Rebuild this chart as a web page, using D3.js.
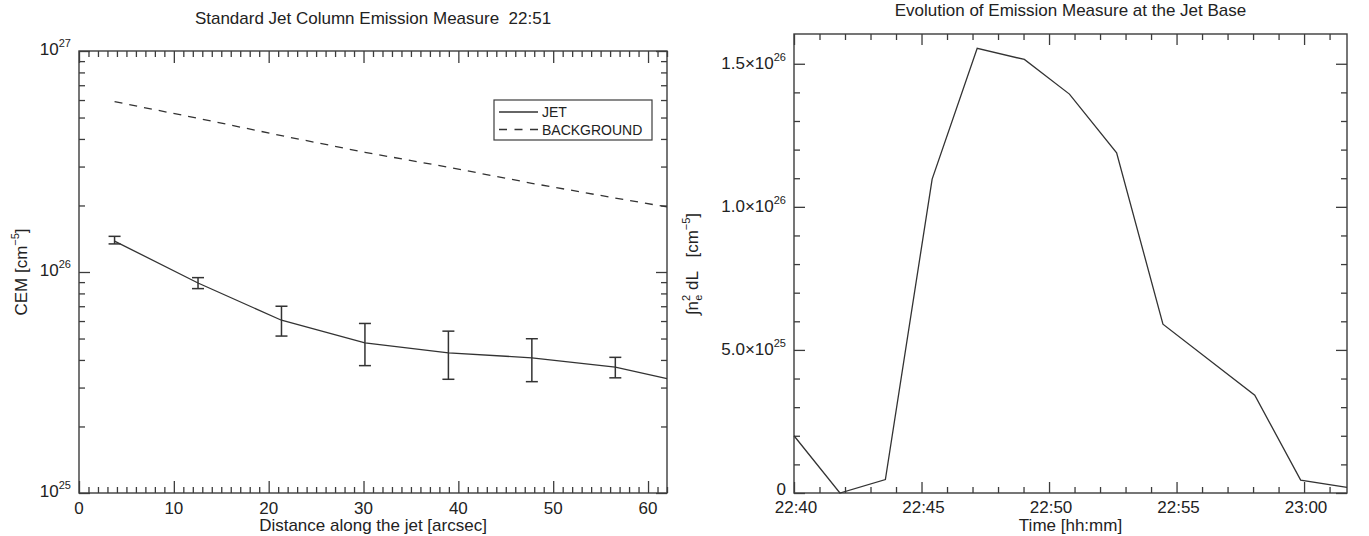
<!DOCTYPE html>
<html>
<head>
<meta charset="utf-8">
<script src="https://cdn.jsdelivr.net/npm/d3@7"></script>
<style>
  body { margin: 0; background: #fff; }
  text { font-family: "Liberation Sans", Arial, sans-serif; fill: #222; }
</style>
</head>
<body>
<script>
// ---- left panel: CEM along the jet ----
var jetDist = [3.75, 12.55, 21.35, 30.15, 38.95, 47.75, 56.55, 62];
var jetCEM = [1.38e26, 8.92e25, 6.05e25, 4.78e25, 4.31e25, 4.09e25, 3.71e25, 3.29e25];
var jetErrLow = [1.34e26, 8.41e25, 5.13e25, 3.77e25, 3.27e25, 3.19e25, 3.32e25];
var jetErrHigh = [1.45e26, 9.43e25, 7.0e25, 5.85e25, 5.40e25, 4.99e25, 4.11e25];
var bgCEM = [5.9e26, 4.96e26, 4.14e26, 3.48e26, 2.98e26, 2.52e26, 2.16e26, 1.97e26];
var distTicks = [0, 10, 20, 30, 40, 50, 60];
var cemTicks = [1e25, 1e26, 1e27];
var legendKeys = ["JET", "BACKGROUND"];

// ---- right panel: EM at the jet base vs time ----
var baseTimes = ["22:40:00", "22:41:48", "22:43:35", "22:45:25", "22:47:11", "22:49:02",
                 "22:50:48", "22:52:39", "22:54:28", "22:58:04", "22:59:52", "23:01:41"];
var baseEM = [2.0e25, 0, 0.47e25, 1.097e26, 1.554e26, 1.515e26,
              1.394e26, 1.189e26, 5.9e25, 3.42e25, 0.45e25, 0.2e25];
var emTicks = [0, 5e25, 1e26, 1.5e26];
var timeTicks = ["22:40", "22:45", "22:50", "22:55", "23:00"];

var parseT = d3.timeParse("%H:%M:%S");
var lineColor = "#333",
    axisColor = "#3c3c3c";

var svg = d3.select("body")
    .append("svg")
    .attr("width", 1369)
    .attr("height", 536);

function sup(textSel, base, exp) {
    textSel.text(null);
    textSel.append("tspan").text(base);
    if (exp !== undefined) {
        textSel.append("tspan").attr("dy", -8).attr("font-size", 11).text(exp);
    }
}

function frame(g, w, h) {
    g.append("rect")
        .attr("width", w)
        .attr("height", h)
        .attr("fill", "none")
        .attr("stroke", axisColor)
        .attr("stroke-width", 1.4);
}

// inward ticks, no labels
function tickAxis(g, axisFn, scale, values, size, transform) {
    g.append("g")
        .attr("transform", transform || null)
        .call(axisFn(scale).tickValues(values).tickSize(size).tickFormat(""))
        .call(function(s) {
            s.select(".domain").remove();
            s.selectAll("line").attr("stroke", axisColor).attr("stroke-width", 1.3);
        });
}

// ================= left panel =================
var m1 = { left: 79, top: 51 },
    w1 = 667 - 79,
    h1 = 493 - 51;

var g1 = svg.append("g")
    .attr("transform", "translate(" + m1.left + "," + m1.top + ")");

var x1 = d3.scaleLinear().domain([0, 62]).range([0, w1]);
var y1 = d3.scaleLog().domain([1e25, 1e27]).range([h1, 0]);

var minorDist = d3.range(0, 63, 1).filter(function(d) { return d % 10 !== 0; });
var minorCEM = [];
[1e25, 1e26].forEach(function(dec) {
    for (var k = 2; k <= 9; k++) minorCEM.push(dec * k);
});

tickAxis(g1, d3.axisBottom, x1, distTicks, -12, "translate(0," + h1 + ")");
tickAxis(g1, d3.axisBottom, x1, minorDist, -6, "translate(0," + h1 + ")");
tickAxis(g1, d3.axisTop, x1, distTicks, -12);
tickAxis(g1, d3.axisTop, x1, minorDist, -6);
tickAxis(g1, d3.axisLeft, y1, cemTicks, -11);
tickAxis(g1, d3.axisLeft, y1, minorCEM, -6);
tickAxis(g1, d3.axisRight, y1, cemTicks, -11, "translate(" + w1 + ",0)");
tickAxis(g1, d3.axisRight, y1, minorCEM, -6, "translate(" + w1 + ",0)");
frame(g1, w1, h1);

// tick labels
g1.append("g")
    .selectAll("text")
    .data(distTicks)
    .enter().append("text")
    .attr("x", function(d) { return x1(d); })
    .attr("y", h1 + 21)
    .attr("text-anchor", "middle")
    .attr("font-size", 17)
    .text(function(d) { return d; });

g1.append("g")
    .selectAll("text")
    .data(cemTicks)
    .enter().append("text")
    .attr("x", -8)
    .attr("y", function(d) { return y1(d) + 4; })
    .attr("text-anchor", "end")
    .attr("font-size", 17)
    .each(function(d) {
        sup(d3.select(this), "10", Math.round(Math.log10(d)));
    });

// jet line, background line and error bars
var cemLine = d3.line()
    .x(function(d, i) { return x1(jetDist[i]); })
    .y(function(d) { return y1(d); });

g1.append("path")
    .datum(jetCEM)
    .attr("d", cemLine)
    .attr("fill", "none")
    .attr("stroke", lineColor)
    .attr("stroke-width", 1.3);

g1.append("path")
    .datum(bgCEM)
    .attr("d", cemLine)
    .attr("fill", "none")
    .attr("stroke", lineColor)
    .attr("stroke-width", 1.3)
    .attr("stroke-dasharray", "8,7");

var bars = g1.append("g")
    .attr("stroke", "#333")
    .attr("stroke-width", 1.5)
    .selectAll("g")
    .data(jetErrLow)
    .enter().append("g");

bars.append("line")
    .attr("x1", function(d, i) { return x1(jetDist[i]); })
    .attr("x2", function(d, i) { return x1(jetDist[i]); })
    .attr("y1", function(d) { return y1(d); })
    .attr("y2", function(d, i) { return y1(jetErrHigh[i]); });
bars.append("line")
    .attr("x1", function(d, i) { return x1(jetDist[i]) - 6; })
    .attr("x2", function(d, i) { return x1(jetDist[i]) + 6; })
    .attr("y1", function(d) { return y1(d); })
    .attr("y2", function(d) { return y1(d); });
bars.append("line")
    .attr("x1", function(d, i) { return x1(jetDist[i]) - 6; })
    .attr("x2", function(d, i) { return x1(jetDist[i]) + 6; })
    .attr("y1", function(d, i) { return y1(jetErrHigh[i]); })
    .attr("y2", function(d, i) { return y1(jetErrHigh[i]); });

// legend
var leg = g1.append("g")
    .attr("transform", "translate(" + (494 - m1.left) + "," + (100 - m1.top) + ")");
leg.append("rect")
    .attr("width", 158)
    .attr("height", 40)
    .attr("fill", "#fff")
    .attr("stroke", axisColor)
    .attr("stroke-width", 1.2);
var legItem = leg.selectAll("g")
    .data(legendKeys)
    .enter().append("g")
    .attr("transform", function(d, i) { return "translate(0," + (12 + i * 17.5) + ")"; });
legItem.append("line")
    .attr("x1", 5)
    .attr("x2", 44)
    .attr("stroke", lineColor)
    .attr("stroke-width", 1.3)
    .attr("stroke-dasharray", function(d, i) { return i ? "8,7.5" : null; });
legItem.append("text")
    .attr("x", 48)
    .attr("y", 5)
    .attr("font-size", 14)
    .text(function(d) { return d; });

// titles
svg.append("text")
    .attr("x", m1.left + w1 / 2)
    .attr("y", 24)
    .attr("text-anchor", "middle")
    .attr("font-size", 17)
    .attr("xml:space", "preserve")
    .text("Standard Jet Column Emission Measure  22:51");

svg.append("text")
    .attr("x", m1.left + w1 / 2)
    .attr("y", 531)
    .attr("text-anchor", "middle")
    .attr("font-size", 17)
    .text("Distance along the jet [arcsec]");

var yl1 = svg.append("text")
    .attr("transform", "translate(27,272) rotate(-90)")
    .attr("text-anchor", "middle")
    .attr("font-size", 17);
yl1.append("tspan").text("CEM [cm");
yl1.append("tspan").attr("dy", -8).attr("font-size", 11).text("\u22125");
yl1.append("tspan").attr("dy", 8).text("]");

// ================= right panel =================
var m2 = { left: 794, top: 34 },
    w2 = 1347 - 794,
    h2 = 493 - 34;

var g2 = svg.append("g")
    .attr("transform", "translate(" + m2.left + "," + m2.top + ")");

var times = baseTimes.map(parseT);
var x2 = d3.scaleTime()
    .domain([parseT("22:40:00"), parseT("23:01:41")])
    .range([0, w2]);
var y2 = d3.scaleLinear().domain([0, 1.604e26]).range([h2, 0]);

var majorT = timeTicks.map(function(s) { return parseT(s + ":00"); });
var minorT = d3.timeMinute.range(parseT("22:40:00"), parseT("23:01:41"))
    .filter(function(d) { return d.getMinutes() % 5 !== 0; });
var minorEM = d3.range(0, 16).map(function(k) { return k * 1e25; })
    .filter(function(d, k) { return k % 5 !== 0; });

tickAxis(g2, d3.axisBottom, x2, majorT, -11, "translate(0," + h2 + ")");
tickAxis(g2, d3.axisBottom, x2, minorT, -6, "translate(0," + h2 + ")");
tickAxis(g2, d3.axisTop, x2, majorT, -11);
tickAxis(g2, d3.axisTop, x2, minorT, -6);
tickAxis(g2, d3.axisLeft, y2, emTicks, -11);
tickAxis(g2, d3.axisLeft, y2, minorEM, -6);
tickAxis(g2, d3.axisRight, y2, emTicks, -11, "translate(" + w2 + ",0)");
tickAxis(g2, d3.axisRight, y2, minorEM, -6, "translate(" + w2 + ",0)");
frame(g2, w2, h2);

g2.append("g")
    .selectAll("text")
    .data(majorT)
    .enter().append("text")
    .attr("x", function(d) { return x2(d) + 2; })
    .attr("y", h2 + 20)
    .attr("text-anchor", "middle")
    .attr("font-size", 17)
    .text(d3.timeFormat("%H:%M"));

g2.append("g")
    .selectAll("text")
    .data(emTicks)
    .enter().append("text")
    .attr("x", -8)
    .attr("y", function(d) { return d === 0 ? y2(d) + 2 : y2(d) + 5; })
    .attr("text-anchor", "end")
    .attr("font-size", 17)
    .each(function(d) {
        if (d === 0) { sup(d3.select(this), "0"); return; }
        var e = Math.floor(Math.log10(d));
        sup(d3.select(this), (d / Math.pow(10, e)).toFixed(1) + "\u00d710", e);
    });

var emLine = d3.line()
    .x(function(d, i) { return x2(times[i]); })
    .y(function(d) { return y2(d); });

g2.append("path")
    .datum(baseEM)
    .attr("d", emLine)
    .attr("fill", "none")
    .attr("stroke", lineColor)
    .attr("stroke-width", 1.3);

svg.append("text")
    .attr("x", m2.left + w2 / 2)
    .attr("y", 16)
    .attr("text-anchor", "middle")
    .attr("font-size", 17)
    .text("Evolution of Emission Measure at the Jet Base");

svg.append("text")
    .attr("x", m2.left + w2 / 2)
    .attr("y", 531)
    .attr("text-anchor", "middle")
    .attr("font-size", 17)
    .text("Time [hh:mm]");

var yl2 = svg.append("text")
    .attr("transform", "translate(698,264) rotate(-90)")
    .attr("text-anchor", "middle")
    .attr("font-size", 17)
    .attr("xml:space", "preserve");
yl2.append("tspan").text("\u222Bn");
yl2.append("tspan").attr("dy", -8).attr("font-size", 11).text("2");
yl2.append("tspan").attr("dx", -6).attr("dy", 12).attr("font-size", 11).text("e");
yl2.append("tspan").attr("dy", -4).text(" dL   [cm");
yl2.append("tspan").attr("dy", -8).attr("font-size", 11).text("\u22125");
yl2.append("tspan").attr("dy", 8).text("]");
</script>
</body>
</html>
